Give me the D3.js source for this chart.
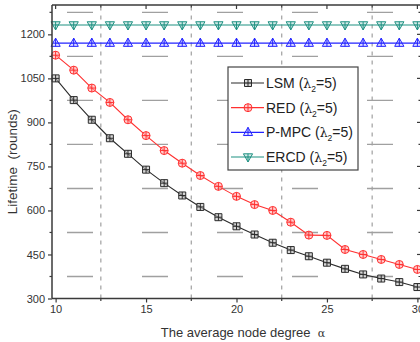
<!DOCTYPE html>
<html>
<head>
<meta charset="utf-8">
<script src="https://cdn.jsdelivr.net/npm/d3@7"></script>
<style>
  html, body { margin: 0; padding: 0; background: #fff; }
  svg { display: block; }
</style>
</head>
<body>
<div id="chart"></div>
<script>
// --- DATA ---
const degrees = d3.range(10, 31); // 10..30
const lsm  = [1050, 976, 909, 846, 793, 739, 693, 651, 612, 577, 546, 518, 490, 465, 444, 422, 401, 382, 368, 356, 339];
const red  = [1129, 1078, 1017, 968, 909, 855, 804, 761, 719, 682, 648, 620, 600, 560, 516, 515, 467, 450, 433, 416, 399];
const pmpc = degrees.map(() => 1170);
const ercd = degrees.map(() => 1232);
const xTicks = [10, 15, 20, 25, 30];
const yTicks = [300, 450, 600, 750, 900, 1050, 1200];
const seriesNames = ["LSM", "RED", "P-MPC", "ERCD"];

// --- CONFIG ---
const WIDTH = 420, HEIGHT = 342;
const MARGIN = { top: 5, right: -1, bottom: 43.5, left: 52 };
const FONT = "'Liberation Sans', Arial, sans-serif";

const series = [
  { name: seriesNames[0], values: lsm,  color: "#2b2b2b", fill: "#bdbdbd", marker: "square" },
  { name: seriesNames[1], values: red,  color: "#ff3030", fill: "#ffb0b0", marker: "circle" },
  { name: seriesNames[2], values: pmpc, color: "#2323ff", fill: "#c8c8ff", marker: "triUp" },
  { name: seriesNames[3], values: ercd, color: "#1f9182", fill: "#b7ddd8", marker: "triDown" }
];

const x = d3.scaleLinear().domain([9.8, 30.2]).range([MARGIN.left, WIDTH - MARGIN.right]);
const y = d3.scaleLinear().domain([300, 1300]).range([HEIGHT - MARGIN.bottom, MARGIN.top]);

const svg = d3.select("#chart").append("svg")
  .attr("width", WIDTH).attr("height", HEIGHT)
  .style("font-family", FONT);

const x0 = x.range()[0], x1 = x.range()[1];
const y0 = y.range()[0], y1 = y.range()[1];

// minor positions
const xMinor = d3.range(12.5, 30, 5);
const yMinor = d3.range(375, 1300, 150);

// --- GRID (dashed grid at minor positions) ---
svg.append("g").selectAll("line").data(yMinor).join("line")
  .attr("x1", x0).attr("x2", x1)
  .attr("y1", d => y(d)).attr("y2", d => y(d))
  .attr("stroke", "#a0a0a0").attr("stroke-width", 1.4)
  .attr("stroke-dasharray", "26,49").attr("stroke-dashoffset", 60);

svg.append("g").selectAll("line").data(xMinor).join("line")
  .attr("x1", d => x(d)).attr("x2", d => x(d))
  .attr("y1", y0).attr("y2", y1)
  .attr("stroke", "#a0a0a0").attr("stroke-width", 1.2)
  .attr("stroke-dasharray", "4,5");

// --- MARKERS ---
function markerPath(type) {
  if (type === "square") return "M-3.5,-3.5H3.5V3.5H-3.5Z M0,-3.5V3.5 M-3.5,0H3.5";
  if (type === "circle") return "M4,0A4,4 0 1,1 -4,0A4,4 0 1,1 4,0Z M0,-4V4 M-4,0H4";
  if (type === "triUp") return "M0,-5L4.6,3.2L-4.6,3.2Z M0,-5V3.2 M-2.8,0H2.8";
  return "M0,5L4.6,-3.2L-4.6,-3.2Z M0,5V-3.2 M-2.8,0H2.8";
}

const line = d3.line().x((d, i) => x(degrees[i])).y(d => y(d));

series.forEach(s => {
  const g = svg.append("g");
  g.append("path").datum(s.values)
    .attr("d", line).attr("fill", "none")
    .attr("stroke", s.color).attr("stroke-width", 1.1);
  g.selectAll("path.m").data(s.values).join("path")
    .attr("class", "m")
    .attr("d", markerPath(s.marker))
    .attr("transform", (d, i) => `translate(${x(degrees[i])},${y(d)})`)
    .attr("fill", s.fill).attr("fill-opacity", 0.6)
    .attr("stroke", s.color).attr("stroke-width", 1);
});

// --- FRAME ---
const AXIS_COLOR = "#3a3a3a";
svg.append("line").attr("x1", x0).attr("x2", x1).attr("y1", y1).attr("y2", y1)
  .attr("stroke", AXIS_COLOR).attr("stroke-width", 1.5);

// left axis
const yAxis = d3.axisLeft(y).tickValues(yTicks).tickFormat(d3.format("d")).tickSize(4).tickPadding(3);
const gy = svg.append("g").attr("transform", `translate(${x0},0)`).call(yAxis);
gy.select(".domain").attr("stroke", AXIS_COLOR).attr("stroke-width", 1.5).attr("d", `M0,${y0}V${y1}`);
gy.selectAll(".tick line").attr("stroke", AXIS_COLOR).attr("stroke-width", 1.2);
gy.selectAll("text").attr("font-family", FONT).attr("font-size", 11).attr("fill", "#333");
gy.selectAll("line.minor").data(yMinor).join("line").attr("class", "minor")
  .attr("x1", -2.5).attr("x2", 0).attr("y1", d => y(d)).attr("y2", d => y(d))
  .attr("stroke", AXIS_COLOR).attr("stroke-width", 1.2);

// bottom axis
const xAxis = d3.axisBottom(x).tickValues(xTicks).tickFormat(d3.format("d")).tickSize(4).tickPadding(3);
const gx = svg.append("g").attr("transform", `translate(0,${y0})`).call(xAxis);
gx.select(".domain").attr("stroke", AXIS_COLOR).attr("stroke-width", 1.5).attr("d", `M${x0},0H${x1}`);
gx.selectAll(".tick line").attr("stroke", AXIS_COLOR).attr("stroke-width", 1.2);
gx.selectAll("text").attr("font-family", FONT).attr("font-size", 11).attr("fill", "#333");
gx.selectAll("line.minor").data(xMinor).join("line").attr("class", "minor")
  .attr("x1", d => x(d)).attr("x2", d => x(d)).attr("y1", 0).attr("y2", 2.5)
  .attr("stroke", AXIS_COLOR).attr("stroke-width", 1.2);

// top ticks (inward)
svg.append("g").selectAll("line").data(xTicks.concat(xMinor)).join("line")
  .attr("x1", d => x(d)).attr("x2", d => x(d))
  .attr("y1", y1).attr("y2", d => y1 + (xTicks.includes(d) ? 4 : 2.5))
  .attr("stroke", AXIS_COLOR).attr("stroke-width", 1.2);

// right ticks (inward, right edge is just off the canvas)
svg.append("g").selectAll("line").data(yTicks.concat(yMinor)).join("line")
  .attr("x1", x1).attr("x2", d => x1 - (yTicks.includes(d) ? 4 : 2.5))
  .attr("y1", d => y(d)).attr("y2", d => y(d))
  .attr("stroke", AXIS_COLOR).attr("stroke-width", 1.2);

// --- AXIS TITLES ---
svg.append("text")
  .attr("transform", `translate(17,${(y0 + y1) / 2 + 10}) rotate(-90)`)
  .attr("text-anchor", "middle")
  .attr("font-size", 13.5).attr("fill", "#333")
  .attr("xml:space", "preserve")
  .text("Lifetime  (rounds)");

const xt = svg.append("text")
  .attr("x", 243).attr("y", 337)
  .attr("text-anchor", "middle")
  .attr("font-size", 13).attr("fill", "#333")
  .attr("xml:space", "preserve");
xt.append("tspan").text("The average node degree  ");
xt.append("tspan").attr("font-family", "'DejaVu Serif', serif").attr("font-size", 11).text("α");

// --- LEGEND ---
const LX = 228, LY = 67, LW = 130, LH = 103;
const legend = svg.append("g");
legend.append("rect").attr("x", LX).attr("y", LY).attr("width", LW).attr("height", LH)
  .attr("fill", "#fff").attr("stroke", "#444").attr("stroke-width", 1.2);

const rowY = d3.scalePoint().domain(seriesNames).range([LY + 16, LY + 90]);
series.forEach(s => {
  const yy = rowY(s.name);
  legend.append("line").attr("x1", LX + 3).attr("x2", LX + 36).attr("y1", yy).attr("y2", yy)
    .attr("stroke", s.color).attr("stroke-width", 1.1);
  legend.append("path").attr("d", markerPath(s.marker))
    .attr("transform", `translate(${LX + 20},${yy})`)
    .attr("fill", s.fill).attr("fill-opacity", 0.6)
    .attr("stroke", s.color).attr("stroke-width", 1);
  const t = legend.append("text").attr("x", LX + 38).attr("y", yy + 5)
    .attr("font-size", 14).attr("fill", "#222");
  t.append("tspan").text(s.name + " (");
  t.append("tspan").attr("font-family", "'DejaVu Serif', serif").attr("font-size", 12.5).text("λ");
  t.append("tspan").attr("font-size", 8.5).attr("dy", 4).text("2");
  t.append("tspan").attr("dy", -4).text("=5)");
});
</script>
</body>
</html>
